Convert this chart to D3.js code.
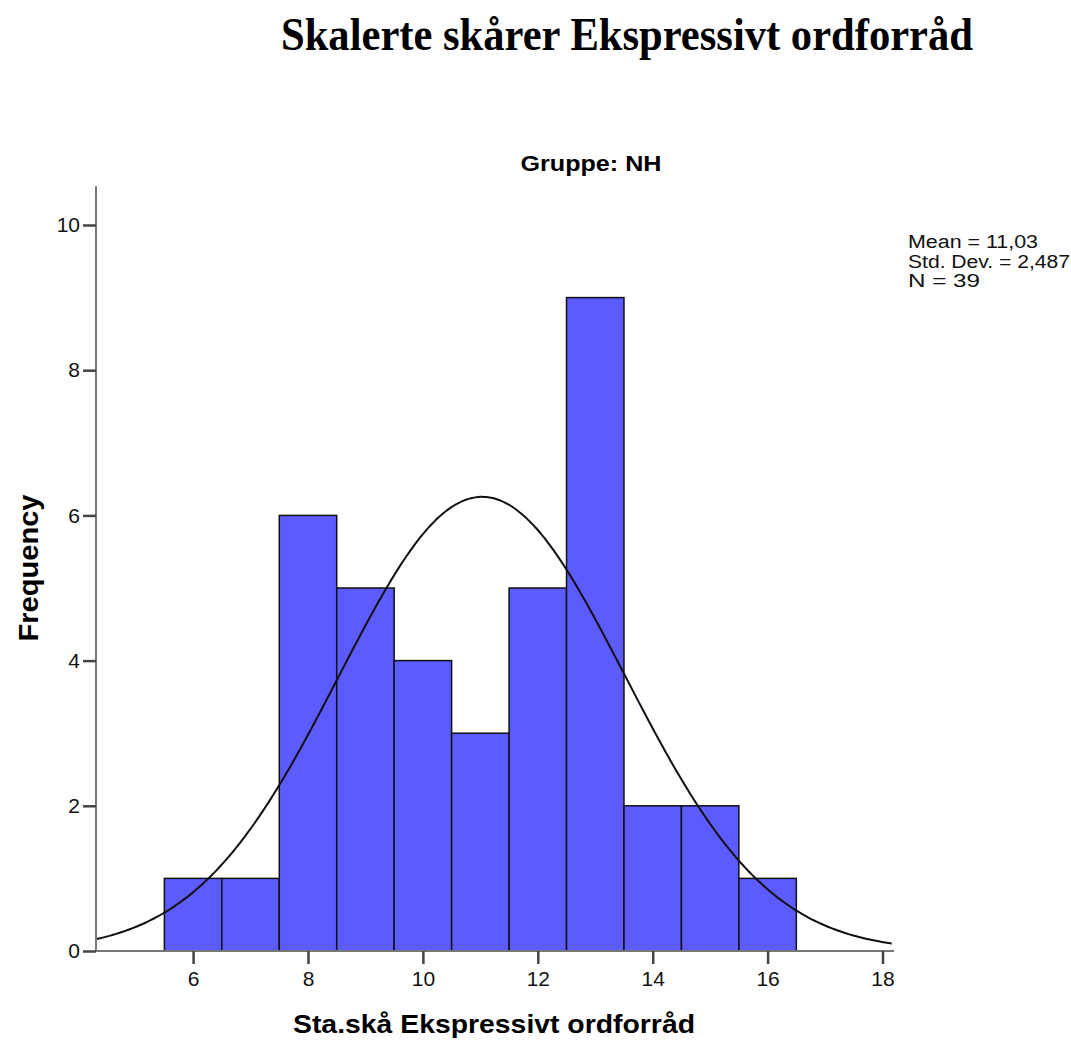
<!DOCTYPE html>
<html><head><meta charset="utf-8">
<script src="https://cdn.jsdelivr.net/npm/d3@7"></script>
<style>body{margin:0;background:#fff}</style>
</head><body>
<svg id="c" width="1071" height="1042"></svg>
<script>
const binStarts = [5.5,6.5,7.5,8.5,9.5,10.5,11.5,12.5,13.5,14.5,15.5];
const binWidth = 1;
const counts = [1,1,6,5,4,3,5,9,2,2,1];
const xTicks = [6,8,10,12,14,16,18];
const yTicks = [0,2,4,6,8,10];
const statMean = 11.03, statSD = 2.487, statN = 39;
const statLabels = ["Mean = 11,03","Std. Dev. = 2,487","N = 39"];

const svg = d3.select("#c");
const x = d3.scaleLinear().domain([4.31,18.2]).range([96,894]);
const y = d3.scaleLinear().domain([0,10]).range([951,225]);
const font = "'Liberation Sans',Arial,sans-serif";

svg.append("text").attr("x",627).attr("y",50).attr("text-anchor","middle")
  .attr("font-family","'Liberation Serif','Times New Roman',serif").attr("font-weight","bold")
  .attr("font-size",47).attr("textLength",692).attr("lengthAdjust","spacingAndGlyphs")
  .text("Skalerte skårer Ekspressivt ordforråd");
svg.append("text").attr("x",591).attr("y",171).attr("text-anchor","middle")
  .attr("font-family",font).attr("font-weight","bold")
  .attr("font-size",22).attr("textLength",141).attr("lengthAdjust","spacingAndGlyphs").text("Gruppe: NH");

// bars
svg.append("g").selectAll("rect").data(counts).join("rect")
  .attr("x",(d,i)=>x(binStarts[i])).attr("width",(d,i)=>x(binStarts[i]+binWidth)-x(binStarts[i]))
  .attr("y",d=>y(d)).attr("height",d=>y(0)-y(d))
  .attr("fill","#5b5bff").attr("stroke","#111").attr("stroke-width",1.5);

// normal curve
const pdf = v => statN*binWidth/(statSD*Math.sqrt(2*Math.PI))*Math.exp(-0.5*((v-statMean)/statSD)**2);
const xs = d3.range(4.31,18.2,0.05);
svg.append("path").datum(xs).attr("fill","none").attr("stroke","#111").attr("stroke-width",2)
  .attr("d",d3.line().x(v=>x(v)).y(v=>y(pdf(v))).curve(d3.curveBasis));

// axes
const ya = svg.append("g").attr("transform","translate(96,0)")
  .call(d3.axisLeft(y).tickValues(yTicks).tickSize(13).tickPadding(3));
const xa = svg.append("g").attr("transform","translate(0,951)")
  .call(d3.axisBottom(x).tickValues(xTicks).tickSize(13).tickPadding(7));
[ya,xa].forEach(a=>{
  a.select(".domain").attr("stroke","#777").attr("stroke-width",2);
  a.selectAll(".tick line").attr("stroke","#444").attr("stroke-width",2.5);
  a.selectAll(".tick text").attr("font-family",font).attr("font-size",21).attr("fill","#111");
});
ya.select(".domain").attr("d","M0,186V951");
xa.select(".domain").attr("d","M96,0H894");

svg.append("text").attr("transform","translate(38,568) rotate(-90)").attr("text-anchor","middle")
  .attr("font-family",font).attr("font-weight","bold").attr("font-size",27)
  .attr("textLength",147).attr("lengthAdjust","spacingAndGlyphs").text("Frequency");
svg.append("text").attr("x",494).attr("y",1033).attr("text-anchor","middle")
  .attr("font-family",font).attr("font-weight","bold").attr("font-size",25)
  .attr("textLength",402).attr("lengthAdjust","spacingAndGlyphs").text("Sta.skå Ekspressivt ordforråd");

const legendW = [130,162,72];
svg.append("g").selectAll("text").data(statLabels).join("text")
  .attr("x",908).attr("y",(d,i)=>248+i*19.5).attr("font-family",font).attr("font-size",18)
  .attr("fill","#111").attr("textLength",(d,i)=>legendW[i]).attr("lengthAdjust","spacingAndGlyphs").text(d=>d);
</script>
</body></html>
